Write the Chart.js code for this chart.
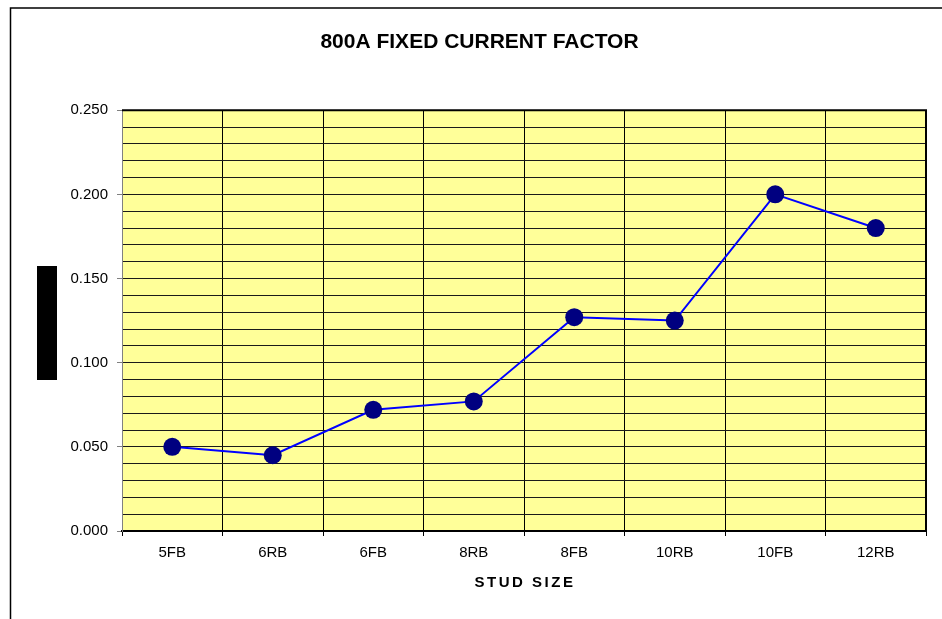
<!DOCTYPE html>
<html>
<head>
<meta charset="utf-8">
<script src="https://cdn.jsdelivr.net/npm/chart.js@4"></script>
<style>
  html, body { margin: 0; padding: 0; background: #fff; }
  #wrap { width: 942px; height: 619px; position: relative; }
</style>
</head>
<body>
<div id="wrap"><canvas id="factorChart"></canvas></div>
<script>
const studSizes = ["5FB", "6RB", "6FB", "8RB", "8FB", "10RB", "10FB", "12RB"];
const factorValues = [0.050, 0.045, 0.072, 0.077, 0.127, 0.125, 0.200, 0.180];
const yMin = 0;
const yMax = 0.25;
const yStep = 0.01;
const yLabelStep = 0.05;

const FONT = "'Liberation Sans', Arial, sans-serif";

// frame, plot background, top/right border, y title box, x title
const decor = {
    id: "decor",
    beforeDraw(chart) {
        const { ctx, chartArea: a } = chart;
        ctx.save();
        ctx.fillStyle = "#fff";
        ctx.fillRect(0, 0, chart.width, chart.height);
        ctx.strokeStyle = "#000";
        ctx.lineWidth = 1.5;
        ctx.beginPath();
        ctx.moveTo(10.5, chart.height);
        ctx.lineTo(10.5, 8);
        ctx.lineTo(chart.width, 8);
        ctx.stroke();
        ctx.fillStyle = "#ffff99";
        ctx.fillRect(a.left, a.top, a.right - a.left, a.bottom - a.top);
        // y axis title box
        ctx.fillStyle = "#000";
        ctx.fillRect(37, 266, 20, 114);
        ctx.restore();
    },
    beforeDatasetsDraw(chart) {
        const { ctx, chartArea: a } = chart;
        ctx.save();
        ctx.strokeStyle = "#000";
        ctx.lineWidth = 2;
        ctx.beginPath();
        ctx.moveTo(a.left, a.top);
        ctx.lineTo(a.right, a.top);
        ctx.lineTo(a.right, a.bottom);
        ctx.stroke();
        ctx.restore();
    },
    afterDraw(chart) {
        const { ctx, chartArea: a } = chart;
        ctx.save();
        ctx.fillStyle = "#000";
        ctx.font = "bold 15px " + FONT;
        ctx.letterSpacing = "2.5px";
        ctx.textAlign = "center";
        ctx.textBaseline = "middle";
        ctx.fillText("STUD SIZE", (a.left + a.right) / 2 + 1, 583);
        ctx.restore();
    }
};

const ctx = document.getElementById("factorChart").getContext("2d");

new Chart(ctx, {
    type: "line",
    data: {
        labels: studSizes,
        datasets: [
            {
                label: "800A Fixed Current Factor",
                data: factorValues,
                borderColor: "#0000ff",
                borderWidth: 2,
                backgroundColor: "#000080",
                pointBackgroundColor: "#000080",
                pointBorderColor: "#000080",
                pointBorderWidth: 0,
                pointRadius: 9,
                tension: 0
            }
        ]
    },
    options: {
        responsive: true,
        maintainAspectRatio: false,
        animation: false,
        events: [],
        layout: { padding: { left: 33, right: 16, top: 0, bottom: 0 } },
        plugins: {
            legend: { display: false },
            tooltip: { enabled: false },
            title: {
                display: true,
                text: "800A FIXED CURRENT FACTOR",
                color: "#000",
                font: { family: FONT, size: 21, weight: "bold" },
                padding: { top: 30, bottom: 55 }
            }
        },
        scales: {
            x: {
                offset: true,
                grid: {
                    offset: true,
                    color: "#000",
                    lineWidth: 1,
                    tickLength: 5,
                    tickColor: "#000"
                },
                border: { color: "#000", width: 2 },
                ticks: {
                    color: "#000",
                    font: { family: FONT, size: 15 },
                    padding: 8,
                    maxRotation: 0
                },
                afterFit(scale) { scale.height = 88; }
            },
            y: {
                min: yMin,
                max: yMax,
                grid: {
                    color: "#1a1a1a",
                    lineWidth: 1,
                    tickLength: 5,
                    tickColor(c) {
                        const v = Math.round(c.tick.value * 1000);
                        return v % Math.round(yLabelStep * 1000) === 0 ? "#808080" : "rgba(0,0,0,0)";
                    }
                },
                border: { color: "#808080", width: 1 },
                ticks: {
                    stepSize: yStep,
                    autoSkip: false,
                    color: "#000",
                    font: { family: FONT, size: 15 },
                    padding: 9,
                    callback(value) {
                        const v = Math.round(value * 1000);
                        return v % Math.round(yLabelStep * 1000) === 0 ? (v / 1000).toFixed(3) : "";
                    }
                },
                afterFit(scale) { scale.width = 89; }
            }
        }
    },
    plugins: [decor]
});
</script>
</body>
</html>
